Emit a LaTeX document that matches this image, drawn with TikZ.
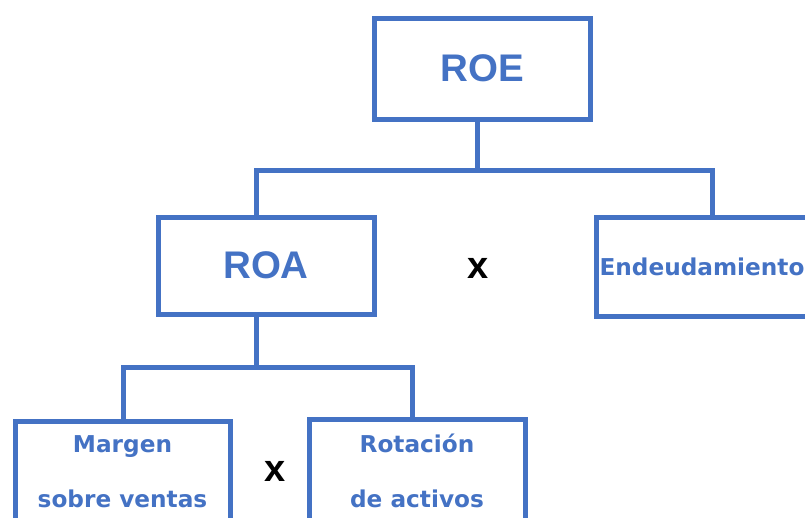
\documentclass[tikz,border=0pt]{standalone}
\usepackage{fontspec}
\newfontfamily\arialb{Liberation Sans Bold}
\newfontfamily\dejab{DejaVu Sans Bold}
\definecolor{boxblue}{HTML}{4472C4}
\tikzset{
  box/.style={draw=boxblue, line width=5pt, inner sep=0pt, text=boxblue, align=center},
  big/.style={font=\fontsize{38.5}{40}\selectfont\arialb},
  small/.style={font=\fontsize{23.2}{55}\selectfont\dejab},
  conn/.style={draw=boxblue, line width=5pt},
  times/.style={font=\fontsize{38}{40}\selectfont\arialb, text=black, inner sep=0pt}
}
\begin{document}
\begin{tikzpicture}[x=1pt,y=-1pt]
\useasboundingbox (0,0) rectangle (805,517);
\begin{scope}
\clip (0,0) rectangle (805,517);
\node[box,big,minimum width=216pt,minimum height=101pt] (ROE) at (482,68.5) {ROE};
\node[box,big,minimum width=216pt,minimum height=97pt] (ROA) at (266,265.5) {ROA};
\node[box,small,minimum width=218pt,minimum height=99pt] (END) at (705,266.5) {\hspace*{-6pt}Endeudamiento};
\node[box,small,minimum width=215pt,minimum height=102pt] (MAR) at (122.5,472) {Margen\\sobre ventas};
\node[box,small,minimum width=216pt,minimum height=104pt] (ROT) at (417,471) {Rotación\\de activos};
\node[times] (x1) at (478,268) {x};
\node[times] (x2) at (275,471) {x};
\coordinate (j1) at (477,170);
\coordinate (aL) at (256,170);
\coordinate (aR) at (712,170);
\coordinate (j2) at (256,367);
\coordinate (bL) at (123,367);
\coordinate (bR) at (412,367);
\draw[conn] (ROE.south -| j1) -- (j1);
\draw[conn] (ROA.north -| aL) -- (aL) -- (aR) -- (END.north -| aR);
\draw[conn] (ROA.south -| j2) -- (j2);
\draw[conn] (MAR.north -| bL) -- (bL) -- (bR) -- (ROT.north -| bR);
\end{scope}
\end{tikzpicture}
\end{document}
